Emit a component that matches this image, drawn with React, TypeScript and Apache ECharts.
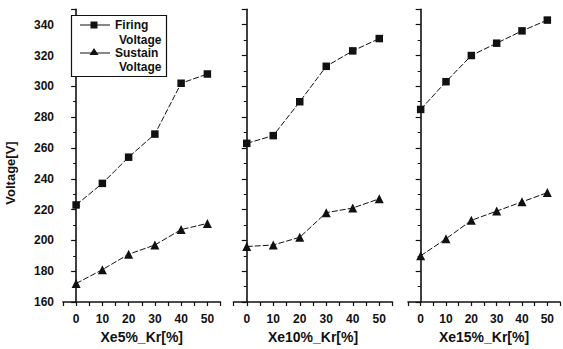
import React, { useEffect, useRef } from "react";
import * as echarts from "echarts";

const krPercent = [0, 10, 20, 30, 40, 50];
const panelNames = ["Xe5%_Kr[%]", "Xe10%_Kr[%]", "Xe15%_Kr[%]"];
const firingXe5 = [223, 237, 254, 269, 302, 308];
const sustainXe5 = [172, 181, 191, 197, 207, 211];
const firingXe10 = [263, 268, 290, 313, 323, 331];
const sustainXe10 = [196, 197, 202, 218, 221, 227];
const firingXe15 = [285, 303, 320, 328, 336, 343];
const sustainXe15 = [190, 201, 213, 219, 225, 231];
const yTicks = { min: 160, max: 350, interval: 20 };
const legendNames = ["Firing", "Voltage", "Sustain", "Voltage"];

const FONT = "Liberation Sans";

export default function App() {
  const ref = useRef<HTMLDivElement>(null);
  useEffect(() => {
    if (!ref.current) return;
    const chart = echarts.init(ref.current, null, { renderer: "svg" });
    const grids = [
      { left: 63, width: 157.5 },
      { left: 233.5, width: 159 },
      { left: 408, width: 157 },
    ];
    const firing = [firingXe5, firingXe10, firingXe15];
    const sustain = [sustainXe5, sustainXe10, sustainXe15];
    const pair = (arr: number[]) => krPercent.map((x, i) => [x, arr[i]]);
    const lineStyle = { color: "#111", width: 1, type: [6, 2] as any };
    const series: any[] = [];
    for (let p = 0; p < 3; p++) {
      series.push({
        type: "line",
        name: "Firing Voltage",
        xAxisIndex: p,
        yAxisIndex: p,
        data: pair(firing[p]),
        symbol: "rect",
        symbolSize: 7.5,
        itemStyle: { color: "#111" },
        lineStyle,
      });
      series.push({
        type: "line",
        name: "Sustain Voltage",
        xAxisIndex: p,
        yAxisIndex: p,
        data: pair(sustain[p]),
        symbol: "triangle",
        symbolSize: 9,
        itemStyle: { color: "#111" },
        lineStyle,
      });
    }
    const axisLine = { show: true, lineStyle: { color: "#111", width: 1.6 } };
    const option: any = {
      animation: false,
      backgroundColor: "#fff",
      grid: grids.map((g) => ({ ...g, top: 9.3, bottom: 42.5 })),
      xAxis: grids.map((_, p) => ({
        type: "value",
        gridIndex: p,
        min: -5,
        max: 55,
        interval: 5,
        axisLine,
        axisTick: { show: true, length: 4, lineStyle: { color: "#111", width: 1.2 } },
        splitLine: { show: false },
        axisLabel: {
          margin: 11,
          color: "#111",
          fontFamily: FONT,
          fontWeight: "bold",
          fontSize: 12,
          formatter: (v: number) => (v >= 0 && v <= 50 && v % 10 === 0 ? String(v) : ""),
        },
        name: panelNames[p],
        nameLocation: "middle",
        nameGap: 28,
        nameTextStyle: { color: "#111", fontFamily: FONT, fontWeight: "bold", fontSize: 14 },
      })),
      yAxis: grids.map((_, p) => ({
        type: "value",
        gridIndex: p,
        min: yTicks.min,
        max: yTicks.max,
        interval: yTicks.interval,
        axisLine,
        axisTick: { show: true, length: 5, lineStyle: { color: "#111", width: 1.2 } },
        minorTick: { show: true, splitNumber: 2, length: 3, lineStyle: { color: "#111", width: 1 } },
        splitLine: { show: false },
        axisLabel: {
          show: p === 0,
          showMaxLabel: false,
          margin: 9,
          color: "#111",
          fontFamily: FONT,
          fontWeight: "bold",
          fontSize: 12,
        },
      })),
      series,
      graphic: [
        {
          type: "text",
          x: 10,
          y: 173,
          rotation: Math.PI / 2,
          style: {
            text: "Voltage[V]",
            fill: "#111",
            font: `bold 13px '${FONT}'`,
            align: "center",
            verticalAlign: "middle",
          },
        },
        {
          type: "rect",
          shape: { x: 71.5, y: 15.5, width: 95, height: 61 },
          style: { fill: "#fff", stroke: "#111", lineWidth: 1.2 },
          z: 10,
        },
        { type: "line", shape: { x1: 80, y1: 25, x2: 110, y2: 25 }, style: { stroke: "#111", lineWidth: 1 }, z: 11 },
        { type: "rect", shape: { x: 90.5, y: 21.5, width: 7, height: 7 }, style: { fill: "#111" }, z: 11 },
        { type: "line", shape: { x1: 80, y1: 53, x2: 110, y2: 53 }, style: { stroke: "#111", lineWidth: 1 }, z: 11 },
        {
          type: "polygon",
          shape: { points: [[94, 48], [98.5, 55], [89.5, 55]] },
          style: { fill: "#111" },
          z: 11,
        },
        ...legendNames.map((t, i) => ({
          type: "text",
          x: i % 2 === 0 ? 115 : 119,
          y: [25, 40, 53, 67][i],
          z: 11,
          style: {
            text: t,
            fill: "#111",
            font: `bold 12px '${FONT}'`,
            verticalAlign: "middle",
          },
        })),
      ],
    };
    chart.setOption(option);
    return () => chart.dispose();
  }, []);
  return <div ref={ref} style={{ width: 563, height: 349, position: "absolute", left: 0, top: 0 }} />;
}
